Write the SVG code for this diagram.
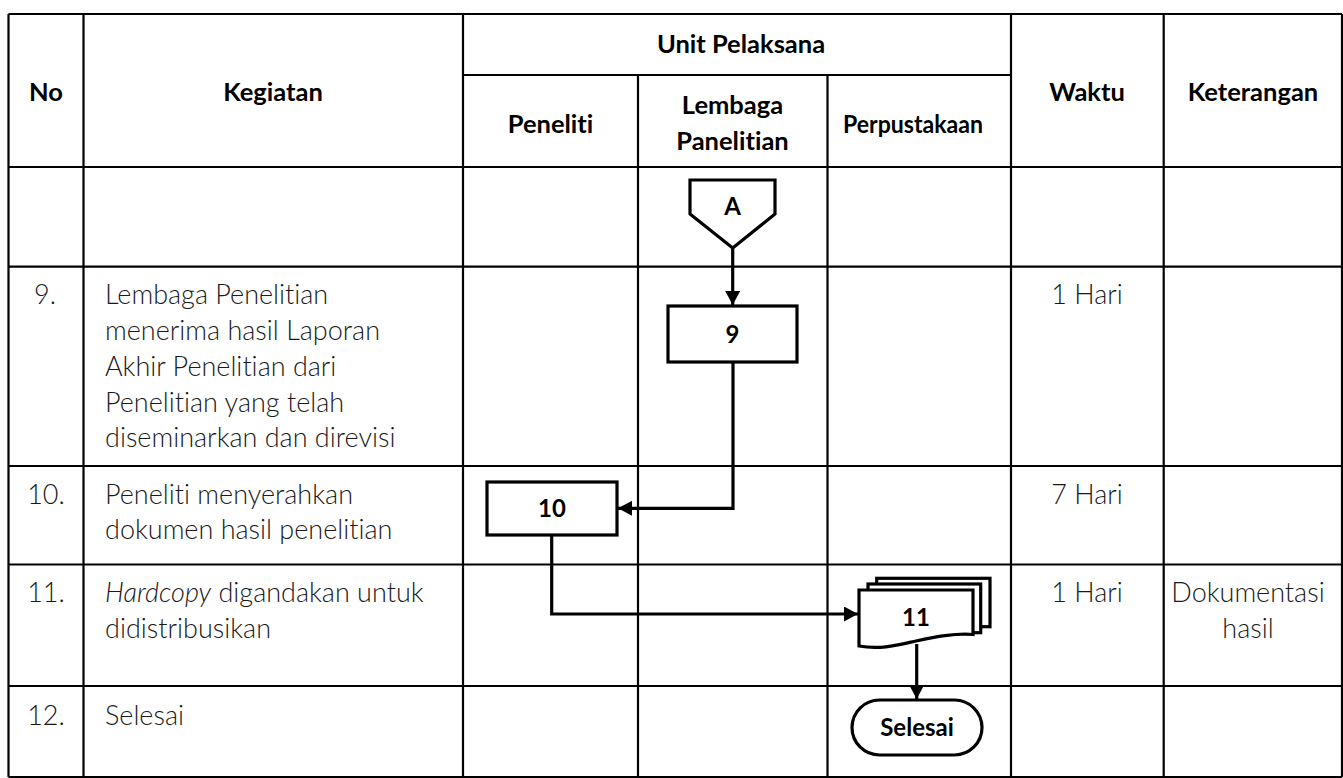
<svg xmlns="http://www.w3.org/2000/svg" width="1343" height="778" viewBox="0 0 1343 778">
<defs>
<style>
text{font-variant-ligatures:none}
.grid{stroke:#000;stroke-width:2.2;fill:none}
.hd{font-family:Lato,"Liberation Sans",sans-serif;font-weight:bold;font-size:25.5px;fill:#000;text-anchor:middle}
.bd{font-family:Lato,"Liberation Sans",sans-serif;font-weight:300;font-size:27px;fill:#1a1a1a}
.ct{text-anchor:middle}
.shape{fill:#fff;stroke:#000;stroke-width:3.2}
.lbl{font-family:Lato,"Liberation Sans",sans-serif;font-weight:bold;font-size:24px;fill:#000;text-anchor:middle}
.conn{stroke:#000;stroke-width:3.2;fill:none}
</style>
<marker id="arr" markerUnits="userSpaceOnUse" markerWidth="15" markerHeight="15" refX="14" refY="7.5" orient="auto">
<path d="M0,0 L14,7.5 L0,15 z" fill="#000"/>
</marker>
</defs>
<rect width="1343" height="778" fill="#fff"/>
<g id="table">
<path class="grid" d="M8.5,14H1342 M8.5,167H1342 M8.5,266.7H1342 M8.5,466H1342 M8.5,564.5H1342 M8.5,686H1342 M8.5,777H1342 M463,75H1011 M8.5,14V777 M83.5,14V777 M463,14V777 M1011,14V777 M1163.7,14V777 M1342,14V777 M638,75V777 M827.5,75V777"/>
<text class="hd" x="46" y="101">No</text>
<text class="hd" x="273" y="101">Kegiatan</text>
<text class="hd" x="741" y="53">Unit Pelaksana</text>
<text class="hd" x="550.5" y="133">Peneliti</text>
<text class="hd" x="732.5" y="114">Lembaga</text>
<text class="hd" x="732.5" y="150">Panelitian</text>
<text class="hd" x="913" y="133" textLength="140" lengthAdjust="spacingAndGlyphs">Perpustakaan</text>
<text class="hd" x="1087" y="101">Waktu</text>
<text class="hd" x="1253" y="101">Keterangan</text>
<text class="bd ct" x="45" y="304">9.</text>
<text class="bd" x="105" y="304">Lembaga Penelitian</text>
<text class="bd" x="105" y="340">menerima hasil Laporan</text>
<text class="bd" x="105" y="376">Akhir Penelitian dari</text>
<text class="bd" x="105" y="411.5">Penelitian yang telah</text>
<text class="bd" x="105" y="447">diseminarkan dan direvisi</text>
<text class="bd ct" x="1087" y="304">1 Hari</text>
<text class="bd ct" x="46" y="504">10.</text>
<text class="bd" x="105" y="504">Peneliti menyerahkan</text>
<text class="bd" x="105" y="539">dokumen hasil penelitian</text>
<text class="bd ct" x="1087" y="504">7 Hari</text>
<text class="bd ct" x="46" y="602">11.</text>
<text class="bd" x="105" y="602"><tspan font-style="italic">Hardcopy</tspan> digandakan untuk</text>
<text class="bd" x="105" y="638">didistribusikan</text>
<text class="bd ct" x="1087" y="602">1 Hari</text>
<text class="bd ct" x="1248" y="602">Dokumentasi</text>
<text class="bd ct" x="1248" y="638">hasil</text>
<text class="bd ct" x="46" y="725">12.</text>
<text class="bd" x="105" y="725">Selesai</text>
</g>
<g id="connectors">
<path class="conn" d="M732.7,248V305" marker-end="url(#arr)"/>
<path class="conn" d="M733,362V508.3H618" marker-end="url(#arr)"/>
<path class="conn" d="M551.7,535V614H858" marker-end="url(#arr)"/>
<path class="conn" d="M916.7,644V699" marker-end="url(#arr)"/>
</g>
<g id="node-A">
<path class="shape" d="M690,180H775V214L732.7,248L690,214Z"/>
<text class="lbl" x="732.5" y="215">A</text>
</g>
<g id="node-9">
<rect class="shape" x="668" y="306" width="129" height="56"/>
<text class="lbl" x="732.5" y="343">9</text>
</g>
<g id="node-10">
<rect class="shape" x="487" y="482" width="130" height="53"/>
<text class="lbl" x="552" y="517">10</text>
</g>
<g id="node-11">
<rect class="shape" x="876.7" y="578.3" width="113.3" height="48.4"/>
<rect class="shape" x="868" y="584" width="112.7" height="48.7"/>
<path class="shape" d="M859,590H973V634.5C955,633 935,637 916,641C898,645 880,650 859,646Z"/>
<text class="lbl" x="916" y="626">11</text>
</g>
<g id="node-selesai">
<rect class="shape" x="852" y="700" width="130" height="55" rx="27.5" ry="27.5"/>
<text class="lbl" x="917" y="736">Selesai</text>
</g>
</svg>
